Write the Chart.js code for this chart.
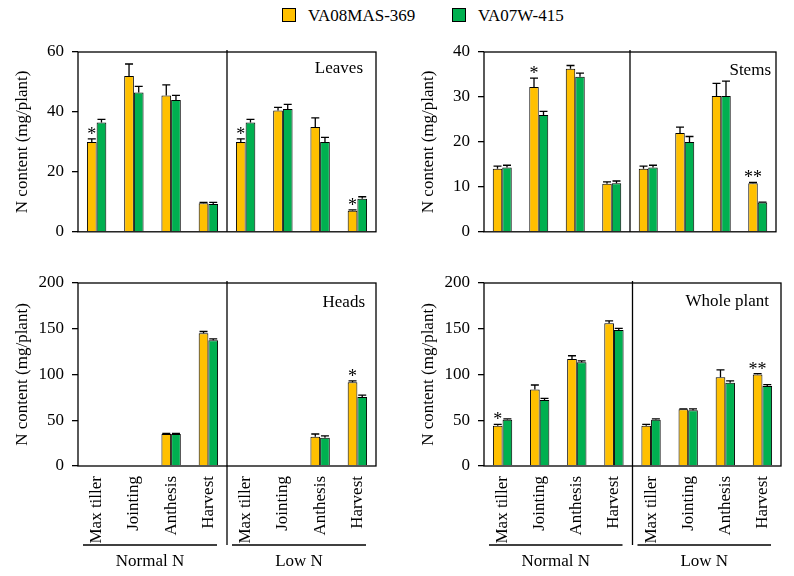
<!DOCTYPE html>
<html>
<head>
<meta charset="utf-8">
<script src="https://cdn.jsdelivr.net/npm/chart.js@4.4.0/dist/chart.umd.min.js"></script>
<style>
  body { margin: 0; background: #fff; }
  #wrap { position: relative; width: 794px; height: 576px; font-family: "Liberation Serif", "Times New Roman", serif; }
  canvas { position: absolute; }
  .key { position: absolute; top: 6px; font-family: "Liberation Serif", serif; font-size: 17px; line-height: 20px; color: #000; white-space: nowrap; }
  .key span { display: inline-block; width: 12px; height: 12px; border: 1px solid #000; vertical-align: -1px; margin-right: 12px; }
</style>
</head>
<body>
<div id="wrap">
  <div class="key" style="left:282px"><span style="background:#FFC000"></span>VA08MAS-369</div>
  <div class="key" style="left:452px"><span style="background:#00B050"></span>VA07W-415</div>
  <canvas id="leaves" width="397" height="250" style="left:0;top:0"></canvas>
  <canvas id="stems" width="397" height="250" style="left:397px;top:0"></canvas>
  <canvas id="heads" width="397" height="326" style="left:0;top:250px"></canvas>
  <canvas id="whole" width="397" height="326" style="left:397px;top:250px"></canvas>
</div>
<script>
// categories
const stages = ["Max tiller", "Jointing", "Anthesis", "Harvest", "Max tiller", "Jointing", "Anthesis", "Harvest"];
const groups = ["Normal N", "Low N"];
const seriesNames = ["VA08MAS-369", "VA07W-415"];
const yTitle = "N content (mg/plant)";

// leaves
const leavesMas = [30, 52, 45.5, 9.5, 30, 40.5, 35, 7];
const leavesMasErr = [1, 4, 3.5, 0.3, 1, 1, 3, 0.3];
const leavesW = [36.5, 46.5, 44, 9.3, 36.5, 41, 30, 11];
const leavesWErr = [1, 2, 1.5, 0.5, 1, 1.5, 1.5, 0.7];
const leavesSig = ["*", "", "", "", "*", "", "", "*"];

// stems
const stemsMas = [14, 32.2, 36.3, 10.7, 14, 22, 30.2, 10.8];
const stemsMasErr = [0.6, 2, 0.7, 0.4, 0.6, 1.3, 2.8, 0.2];
const stemsW = [14.3, 26, 34.5, 10.8, 14.3, 20, 30.2, 6.5];
const stemsWErr = [0.5, 0.8, 0.8, 0.5, 0.5, 1.2, 3.3, 0.1];
const stemsSig = ["", "*", "", "", "", "", "", "**"];

// heads
const headsMas = [0, 0, 35, 145, 0, 0, 32, 91.5];
const headsMasErr = [0, 0, 0.5, 2, 0, 0, 3, 1.5];
const headsW = [0, 0, 35, 137.5, 0, 0, 31, 75.5];
const headsWErr = [0, 0, 0.5, 1.5, 0, 0, 2, 2];
const headsSig = ["", "", "", "", "", "", "", "*"];

// whole plant
const wholeMas = [44, 83.5, 117, 156, 44, 62, 97, 100];
const wholeMasErr = [1.5, 5, 3.5, 2.5, 1.5, 0.5, 8, 1];
const wholeW = [50.5, 72, 113.5, 148.5, 50.5, 61, 91, 87.5];
const wholeWErr = [1, 2, 1.5, 2, 1, 1.5, 2, 1.5];
const wholeSig = ["*", "", "", "", "", "", "", "**"];

const serif = "'Liberation Serif', 'Times New Roman', serif";

// error bars, asterisks, frame, divider, panel name, group labels
const decor = {
  id: "decor",
  afterDatasetsDraw(chart, args, opts) {
    const ctx = chart.ctx;
    const a = chart.chartArea;
    const xs = chart.scales.x, ys = chart.scales.y;
    ctx.save();
    ctx.strokeStyle = "#000";
    ctx.fillStyle = "#000";
    ctx.lineWidth = 1.3;

    chart.data.datasets.forEach((ds, i) => {
      chart.getDatasetMeta(i).data.forEach((bar, j) => {
        const v = ds.data[j], e = ds.err[j];
        if (!v || !e) return;
        const top = ys.getPixelForValue(v + e);
        ctx.beginPath();
        ctx.moveTo(bar.x, bar.y);
        ctx.lineTo(bar.x, top);
        ctx.moveTo(bar.x - 4, top);
        ctx.lineTo(bar.x + 4, top);
        ctx.stroke();
      });
    });

    ctx.font = "18px " + serif;
    ctx.textAlign = "center";
    ctx.textBaseline = "alphabetic";
    const ds0 = chart.data.datasets[0];
    const bars0 = chart.getDatasetMeta(0).data;
    opts.sig.forEach((s, j) => {
      if (!s) return;
      const top = ys.getPixelForValue(ds0.data[j] + ds0.err[j]);
      ctx.fillText(s, bars0[j].x, top + 1);
    });

    ctx.font = "17px " + serif;
    ctx.strokeRect(a.left, a.top, a.right - a.left, a.bottom - a.top);

    const mid = (xs.getPixelForValue(3) + xs.getPixelForValue(4)) / 2;
    const lineY = a.bottom + 79;
    ctx.beginPath();
    ctx.moveTo(mid, a.top - 2);
    ctx.lineTo(mid, opts.groups ? lineY : a.bottom);
    ctx.stroke();

    ctx.textAlign = "right";
    ctx.textBaseline = "middle";
    ctx.fillText(opts.name, a.right - opts.nameDx, a.top + opts.nameDy);

    if (opts.groups) {
      const spans = [[a.left + 5, mid - 10], [mid + 5, a.right - 10]];
      ctx.textAlign = "center";
      spans.forEach((sp, k) => {
        ctx.beginPath();
        ctx.moveTo(sp[0], lineY);
        ctx.lineTo(sp[1], lineY);
        ctx.stroke();
        ctx.fillText(groups[k], (sp[0] + sp[1]) / 2, lineY + 17);
      });
    }
    ctx.restore();
  }
};

function panel(id, mas, masErr, w, wErr, sig, yMax, step, cfg) {
  new Chart(document.getElementById(id), {
    type: "bar",
    data: {
      labels: stages,
      datasets: [
        { label: seriesNames[0], data: mas, err: masErr, backgroundColor: "#FFC000", borderColor: "#000", borderWidth: 1 },
        { label: seriesNames[1], data: w, err: wErr, backgroundColor: "#00B050", borderColor: "#000", borderWidth: 1 }
      ]
    },
    options: {
      responsive: false,
      animation: false,
      categoryPercentage: 0.52,
      barPercentage: 1,
      layout: { padding: { left: 0, top: cfg.top, right: cfg.right, bottom: 0 } },
      plugins: {
        legend: { display: false },
        tooltip: { enabled: false },
        decor: { sig: sig, name: cfg.name, nameDx: cfg.nameDx, nameDy: cfg.nameDy, groups: cfg.labels }
      },
      scales: {
        x: {
          grid: { display: false },
          border: { display: false },
          ticks: { display: cfg.labels, minRotation: 90, maxRotation: 90, autoSkip: false, padding: 2, color: "#000", font: { family: serif, size: 17 } },
          afterFit: (s) => { s.height = cfg.bottom; }
        },
        y: {
          min: 0, max: yMax,
          grid: { drawOnChartArea: false, drawTicks: true, tickLength: 6, color: "#000", lineWidth: 1.3 },
          border: { display: false },
          ticks: { stepSize: step, padding: 8, color: "#000", font: { family: serif, size: 17 } },
          title: { display: true, text: yTitle, color: "#000", padding: { top: cfg.titlePad, bottom: 0 }, font: { family: serif, size: 17 } },
          afterFit: (s) => { s.width = cfg.left; }
        }
      }
    },
    plugins: [decor]
  });
}

panel("leaves", leavesMas, leavesMasErr, leavesW, leavesWErr, leavesSig, 60, 20,
  { top: 52, right: 21, bottom: 14, left: 78, titlePad: 12, name: "Leaves", nameDx: 13, nameDy: 17, labels: false });
panel("stems", stemsMas, stemsMasErr, stemsW, stemsWErr, stemsSig, 40, 10,
  { top: 52, right: 18, bottom: 14, left: 87, titlePad: 21, name: "Stems", nameDx: 5, nameDy: 19, labels: false });
panel("heads", headsMas, headsMasErr, headsW, headsWErr, headsSig, 200, 50,
  { top: 33, right: 21, bottom: 110, left: 78, titlePad: 12, name: "Heads", nameDx: 11, nameDy: 20, labels: true });
panel("whole", wholeMas, wholeMasErr, wholeW, wholeWErr, wholeSig, 200, 50,
  { top: 33, right: 13, bottom: 110, left: 87, titlePad: 21, name: "Whole plant", nameDx: 12, nameDy: 19, labels: true });
</script>
</body>
</html>
